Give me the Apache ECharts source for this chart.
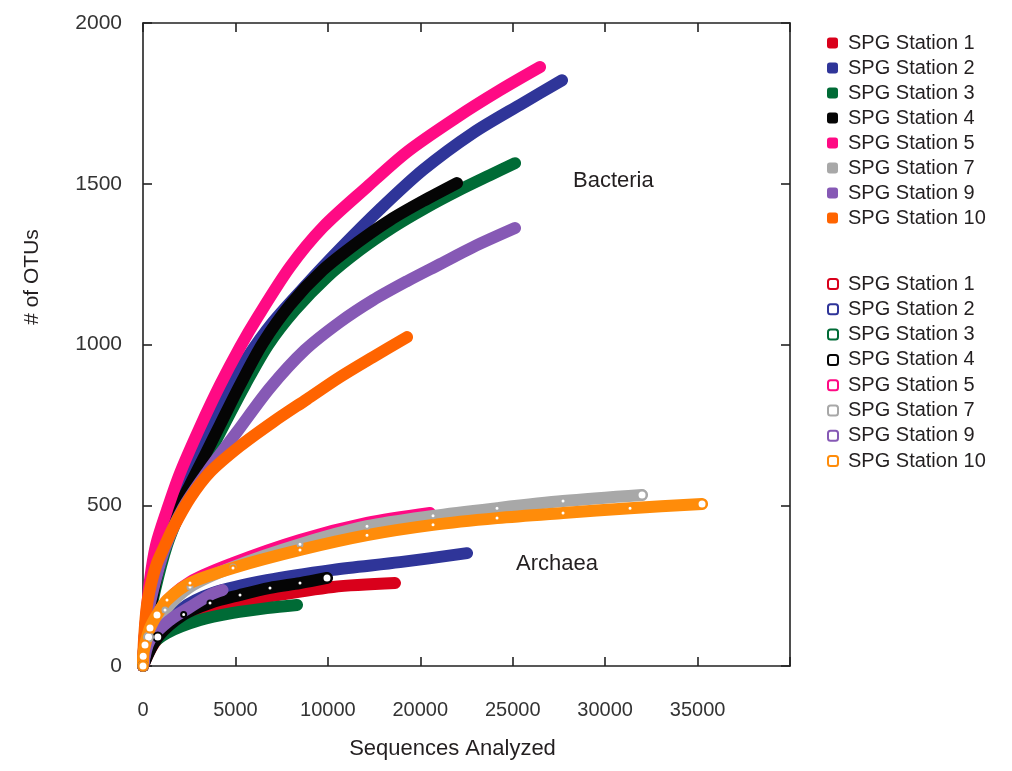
<!DOCTYPE html>
<html>
<head>
<meta charset="utf-8">
<script src="https://cdn.jsdelivr.net/npm/echarts@6/dist/echarts.min.js"></script>
<style>html,body{margin:0;padding:0;background:#fff}#c{width:1012px;height:771px}</style>
</head>
<body>
<div id="c"></div>
<script>
// Tick labels as printed in the original figure (note the original's "20000" at the 4th tick)
const xTickLabels = ['0', '5000', '10000', '20000', '25000', '30000', '35000', ''];
const stations = ['SPG Station 1', 'SPG Station 2', 'SPG Station 3', 'SPG Station 4', 'SPG Station 5', 'SPG Station 7', 'SPG Station 9', 'SPG Station 10'];

// Bacteria rarefaction curves [sequences, OTUs]
const bac1 = [[0,0],[162,143],[487,283],[1190,454],[2002,585],[3084,715]];
const bac2 = [[0,0],[162,137],[379,236],[812,367],[1461,479],[2272,585],[3354,712],[4436,843],[5626,958],[7033,1070],[8872,1188],[10658,1297],[12822,1421],[15148,1543],[17853,1658],[20558,1751],[22668,1822]];
const bac3 = [[0,0],[162,96],[649,236],[1298,376],[2002,479],[2813,578],[3625,666],[4436,756],[5518,874],[6763,998],[8223,1107],[9954,1210],[11739,1294],[13525,1365],[15256,1424],[16987,1477],[18773,1527],[20125,1564]];
const bac4 = [[0,0],[487,205],[1082,361],[1731,470],[2543,563],[3354,656],[4166,750],[5248,874],[6492,1005],[7953,1123],[9738,1232],[11577,1316],[13363,1387],[15148,1446],[16987,1502]];
const bac5 = [[0,0],[162,143],[379,267],[703,376],[1298,485],[2002,600],[3084,743],[4166,874],[5248,992],[6167,1082],[7953,1241],[9738,1365],[12118,1490],[14282,1599],[16987,1707],[19313,1791],[21477,1863]];
const bac7 = [[0,0],[379,205],[920,345],[1731,470],[2813,594],[3895,709]];
const bac9 = [[0,0],[162,128],[541,236],[1190,367],[2164,491],[3462,603],[5085,728],[6870,865],[8764,983],[10658,1070],[12443,1138],[14282,1197],[16068,1250],[17853,1303],[20125,1362]];
const bac10 = [[0,0],[54,81],[216,190],[487,267],[757,320],[1190,376],[1623,429],[2543,522],[3625,603],[5248,684],[7033,759],[8872,830],[10658,899],[12443,961],[14282,1023]];

// Archaea rarefaction curves [sequences, OTUs]
const arc1 = [[0,0],[600,70],[1800,140],[3787,183],[6708,215],[10279,246],[13633,258]];
const arc2 = [[0,0],[600,80],[2002,174],[3787,227],[6708,267],[10279,299],[13904,323],[17529,351]];
const arc3 = [[0,0],[379,59],[1298,103],[3084,143],[4869,165],[6708,180],[8331,190]];
const arc4 = [[0,0],[800,90],[2200,160],[3625,196],[5248,221],[6870,243],[8493,258],[9954,274]];
const arc5 = [[0,0],[300,95],[1082,187],[2543,261],[4869,320],[8493,392],[12118,445],[15527,476]];
const arc7 = [[0,0],[300,90],[1190,174],[2543,246],[4869,308],[8493,379],[12118,435],[15689,467],[19151,491],[22722,513],[26996,532]];
const arc9 = [[0,0],[379,81],[1460,143],[2543,183],[3625,221],[4300,236]];
const arc10 = [[0,0],[10,30],[108,65],[379,118],[757,159],[1298,205],[2543,258],[4869,305],[8493,361],[12118,407],[15689,439],[19151,460],[22722,476],[26347,491],[30242,504]];

const colors = {
  1: '#d9001b', 2: '#2f3599', 3: '#006b36', 4: '#050505', 5: '#ff0a84',
  7: '#a8a8a8', 9: '#8659b5', 10: '#ff6400', '10a': '#ff8c0a'
};
const FONT = '"Liberation Sans", Arial, sans-serif';

function bSeries(name, data, color) {
  return {
    name: 'Bacteria ' + name, type: 'line', data: data, smooth: 0.3,
    showSymbol: false, symbol: 'circle',
    lineStyle: { width: 12, color: color, cap: 'round', join: 'round' },
    itemStyle: { color: color }, animation: false, silent: true
  };
}
function aSeries(name, data, color, marks) {
  const last = data.length - 1;
  return {
    name: 'Archaea ' + name, type: 'line', data: data, smooth: 0.3,
    showSymbol: !!marks, symbol: 'emptyCircle',
    symbolSize: (v, p) => (v[0] < 1000 || p.dataIndex === last ? 9 : 5),
    lineStyle: { width: 12, color: color, cap: 'round', join: 'round' },
    itemStyle: { color: color, borderWidth: 1.5 }, animation: false, silent: true
  };
}

const series = [
  bSeries(stations[0], bac1, colors[1]),
  bSeries(stations[5], bac7, colors[7]),
  bSeries(stations[1], bac2, colors[2]),
  bSeries(stations[2], bac3, colors[3]),
  bSeries(stations[3], bac4, colors[4]),
  bSeries(stations[4], bac5, colors[5]),
  bSeries(stations[6], bac9, colors[9]),
  bSeries(stations[7], bac10, colors[10]),
  aSeries(stations[0], arc1, colors[1], false),
  aSeries(stations[1], arc2, colors[2], false),
  aSeries(stations[2], arc3, colors[3], false),
  aSeries(stations[3], arc4, colors[4], true),
  aSeries(stations[4], arc5, colors[5], false),
  aSeries(stations[5], arc7, colors[7], true),
  aSeries(stations[6], arc9, colors[9], false),
  aSeries(stations[7], arc10, colors['10a'], true)
];

const axisLineStyle = { color: '#222', width: 1.6 };
const legendText = { fontSize: 20, lineHeight: 20, color: '#231f20', fontFamily: FONT, padding: [0, 0, 0, 5] };

const chart = echarts.init(document.getElementById('c'), null, { renderer: 'canvas' });
chart.setOption({
  backgroundColor: '#fff',
  animation: false,
  grid: { left: 143, right: 222, top: 23, bottom: 105 },
  xAxis: [{
    type: 'value', min: 0, max: 35000, interval: 5000, position: 'bottom',
    axisLine: { show: true, onZero: false, lineStyle: axisLineStyle },
    axisTick: { show: true, inside: true, length: 9, lineStyle: axisLineStyle },
    axisLabel: { margin: 34, fontSize: 20, color: '#333', fontFamily: FONT,
      formatter: v => xTickLabels[Math.round(v / 5000)] || '' },
    splitLine: { show: false },
    name: 'Sequences Analyzed', nameLocation: 'middle', nameGap: 72,
    nameTextStyle: { fontSize: 22, color: '#231f20', fontFamily: FONT, padding: [0, 28, 0, 0] }
  }, {
    type: 'value', min: 0, max: 35000, interval: 5000, position: 'top',
    axisLine: { show: true, onZero: false, lineStyle: axisLineStyle },
    axisTick: { show: true, inside: true, length: 9, lineStyle: axisLineStyle },
    axisLabel: { show: false }, splitLine: { show: false }
  }],
  yAxis: [{
    type: 'value', min: 0, max: 2000, interval: 500, position: 'left',
    axisLine: { show: true, onZero: false, lineStyle: axisLineStyle },
    axisTick: { show: true, inside: true, length: 9, lineStyle: axisLineStyle },
    axisLabel: { margin: 21, fontSize: 21, color: '#333', fontFamily: FONT, formatter: v => String(v) },
    splitLine: { show: false }
  }, {
    type: 'value', min: 0, max: 2000, interval: 500, position: 'right',
    axisLine: { show: true, onZero: false, lineStyle: axisLineStyle },
    axisTick: { show: true, inside: true, length: 9, lineStyle: axisLineStyle },
    axisLabel: { show: false }, splitLine: { show: false }
  }],
  legend: [{
    data: stations.map(s => 'Bacteria ' + s),
    orient: 'vertical', left: 822, top: 28, icon: 'roundRect',
    itemWidth: 11, itemHeight: 11, itemGap: 5,
    formatter: n => n.replace('Bacteria ', ''), textStyle: legendText,
    selectedMode: false
  }, {
    data: stations.map(s => 'Archaea ' + s),
    orient: 'vertical', left: 822, top: 269, icon: 'emptyRoundRect',
    itemWidth: 10, itemHeight: 10, itemGap: 5.3,
    formatter: n => n.replace('Archaea ', ''), textStyle: legendText,
    selectedMode: false
  }],
  graphic: [
    { type: 'text', left: 573, top: 170, style: { text: 'Bacteria', fill: '#231f20', font: '22px ' + FONT } },
    { type: 'text', left: 516, top: 553, style: { text: 'Archaea', fill: '#231f20', font: '22px ' + FONT } },
    { type: 'text', x: 32, y: 277, rotation: Math.PI / 2,
      style: { text: '# of OTUs', fill: '#231f20', font: '21px ' + FONT, align: 'center', verticalAlign: 'middle' } }
  ],
  series: series
});
</script>
</body>
</html>
